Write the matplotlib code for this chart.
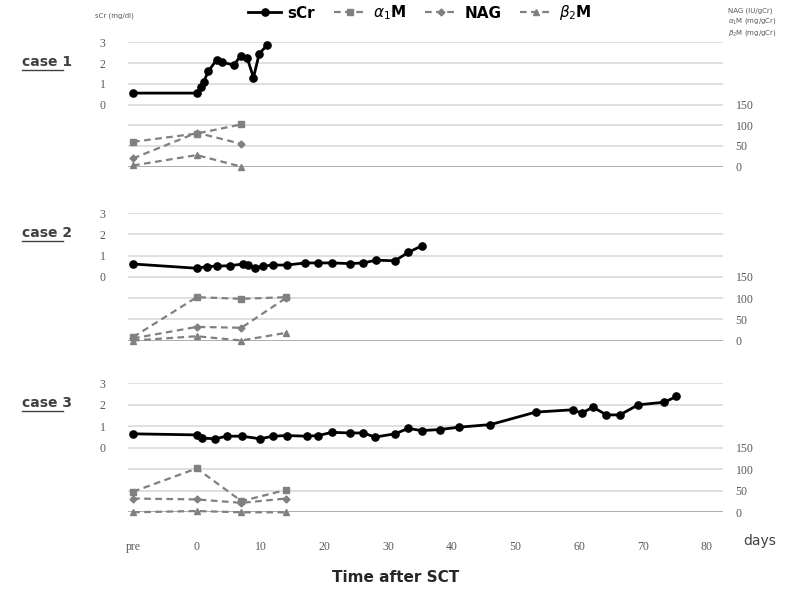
import matplotlib
matplotlib.use('Agg')
import matplotlib.pyplot as plt
from matplotlib.lines import Line2D

# x tick labels
x_ticks = ['pre', 0, 10, 20, 30, 40, 50, 60, 70, 80]
PRE_POS = -10  # where "pre" sits on the day axis

# case 1
c1_scr_days = ['pre', 0, 0.7, 1.1, 1.8, 3.1, 3.9, 5.8, 6.9, 7.9, 8.9, 9.8, 11.0]
c1_scr = [0.55, 0.55, 0.85, 1.1, 1.6, 2.15, 2.05, 1.9, 2.35, 2.25, 1.3, 2.45, 2.85]
c1_bio_days = ['pre', 0, 7]
c1_a1m = [60, 80, 102]
c1_nag = [20, 82, 55]
c1_b2m = [3, 28, 0]

# case 2
c2_scr_days = ['pre', 0, 1.6, 3.1, 5.2, 7.3, 8.1, 9.1, 10.4, 12.0, 14.1, 17.0, 19.1,
               21.2, 24.1, 26.1, 28.2, 31.1, 33.2, 35.3]
c2_scr = [0.6, 0.4, 0.48, 0.5, 0.52, 0.6, 0.55, 0.42, 0.5, 0.55, 0.55, 0.65, 0.65,
          0.65, 0.62, 0.65, 0.78, 0.75, 1.15, 1.45]
c2_bio_days = ['pre', 0, 7, 14]
c2_a1m = [8, 102, 98, 102]
c2_nag = [5, 32, 30, 100]
c2_b2m = [0, 10, 0, 18]

# case 3
c3_scr_days = ['pre', 0, 0.8, 2.9, 4.7, 7.1, 9.9, 12.0, 14.1, 17.3, 19.1, 21.2, 24.0,
               26.1, 28.0, 31.1, 33.2, 35.3, 38.2, 41.2, 46.1, 53.2, 59.1, 60.4, 62.2,
               64.3, 66.4, 69.3, 73.4, 75.3]
c3_scr = [0.65, 0.6, 0.45, 0.42, 0.54, 0.54, 0.42, 0.54, 0.57, 0.54, 0.57, 0.72, 0.69,
          0.69, 0.5, 0.65, 0.9, 0.8, 0.85, 0.96, 1.08, 1.66, 1.77, 1.61, 1.89,
          1.53, 1.53, 2.0, 2.12, 2.39]
c3_bio_days = ['pre', 0, 7, 14]
c3_a1m = [48, 102, 26, 52]
c3_nag = [32, 30, 22, 32]
c3_b2m = [0, 3, 0, 0]

cases = [
    ('case 1', c1_scr_days, c1_scr, c1_bio_days, c1_a1m, c1_nag, c1_b2m),
    ('case 2', c2_scr_days, c2_scr, c2_bio_days, c2_a1m, c2_nag, c2_b2m),
    ('case 3', c3_scr_days, c3_scr, c3_bio_days, c3_a1m, c3_nag, c3_b2m),
]


def to_x(days):
    return [PRE_POS if d == 'pre' else d for d in days]


W, H = 792, 593
fig = plt.figure(figsize=(W / 100, H / 100), dpi=100)
fig.patch.set_facecolor('white')

# panel pixel extents (top, bottom)
panels = [(42.3, 166.7), (213.0, 340.5), (383.3, 512.3)]
left_px, right_px = 128, 723

grid_c = '#d9d9d9'
tick_c = '#595959'
bio_c = '#808080'
handles = None

for i, ((name, sd, sv, bd, a1, nag, b2), (top, bot)) in enumerate(zip(cases, panels)):
    ax = fig.add_axes([left_px / W, 1 - bot / H, (right_px - left_px) / W, (bot - top) / H])
    ax2 = ax.twinx()
    ax.set_zorder(ax2.get_zorder() + 1)
    ax.patch.set_visible(False)

    ax.set_xlim(-10.8, 82.6)
    ax.set_ylim(-3, 3)
    ax2.set_ylim(0, 300)
    ax.set_yticks([0, 1, 2, 3])
    ax2.set_yticks([0, 50, 100, 150])

    for a in (ax, ax2):
        for s in a.spines.values():
            s.set_visible(False)
        a.tick_params(axis='y', length=0, labelsize=8.5, labelcolor=tick_c)
        for lab in a.get_yticklabels():
            lab.set_family('Liberation Serif')
    ax.tick_params(axis='y', pad=16)
    ax2.tick_params(axis='y', pad=9)

    # gridlines
    for v in [1, 2, 3]:
        ax.axhline(v, color=grid_c, lw=1.2, zorder=0)
    for v in [50, 100, 150]:
        ax2.axhline(v, color=grid_c, lw=1.2, zorder=0)
    ax2.axhline(0, color='#a6a6a6', lw=2, zorder=0)

    ax.set_xticks(to_x(x_ticks))
    ax.tick_params(axis='x', length=0)
    if i == 2:
        ax.set_xticklabels([str(t) for t in x_ticks], fontsize=8.5, color=tick_c,
                           family='Liberation Serif')
        ax.tick_params(axis='x', pad=21)
    else:
        ax.set_xticklabels([])
    ax2.tick_params(axis='x', length=0)

    bx = to_x(bd)
    h_a1, = ax2.plot(bx, a1, ls=(0, (3, 2)), color=bio_c, lw=1.6, marker='s', ms=4.5,
                     clip_on=False, zorder=3)
    h_nag, = ax2.plot(bx, nag, ls=(0, (3, 2)), color=bio_c, lw=1.6, marker='D', ms=3.5,
                      clip_on=False, zorder=3)
    h_b2, = ax2.plot(bx, b2, ls=(0, (3, 2)), color=bio_c, lw=1.6, marker='^', ms=4,
                     clip_on=False, zorder=3)
    h_scr, = ax.plot(to_x(sd), sv, color='black', lw=2, marker='o', ms=5.2,
                     clip_on=False, zorder=4)
    if handles is None:
        handles = [h_scr, h_a1, h_nag, h_b2]

    # case label, underlined
    ly = top + 20
    fig.text(22 / W, 1 - ly / H, name, fontsize=10, fontweight='bold', color='#404040',
             ha='left', va='center')
    fig.add_artist(Line2D([22 / W, 63 / W], [1 - (ly + 8) / H, 1 - (ly + 8) / H],
                          color='#404040', lw=1))

fig.legend(handles, ['sCr', r'$\alpha_1$M', 'NAG', r'$\beta_2$M'], loc='center',
           bbox_to_anchor=(420 / W, 1 - 13 / H), ncol=4, frameon=False,
           prop={'size': 11, 'weight': 'bold'}, handlelength=2.2, columnspacing=1.2,
           handletextpad=0.4)

fig.text(95 / W, 1 - 16 / H, 'sCr (mg/dl)', fontsize=5, color=tick_c, va='center')
fig.text(728 / W, 1 - 8 / H, 'NAG (IU/gCr)\n' + r'$\alpha_1$M (mg/gCr)' + '\n' + r'$\beta_2$M (mg/gCr)',
         fontsize=5, color=tick_c, va='top', ha='left', linespacing=1.3)

fig.text(760 / W, 1 - 541 / H, 'days', fontsize=10, color='#404040', ha='center', va='center')
fig.text(396 / W, 1 - 578 / H, 'Time after SCT', fontsize=11, fontweight='bold',
         color='#262626', ha='center', va='center')

fig.savefig('out.png', dpi=100, facecolor='white')
